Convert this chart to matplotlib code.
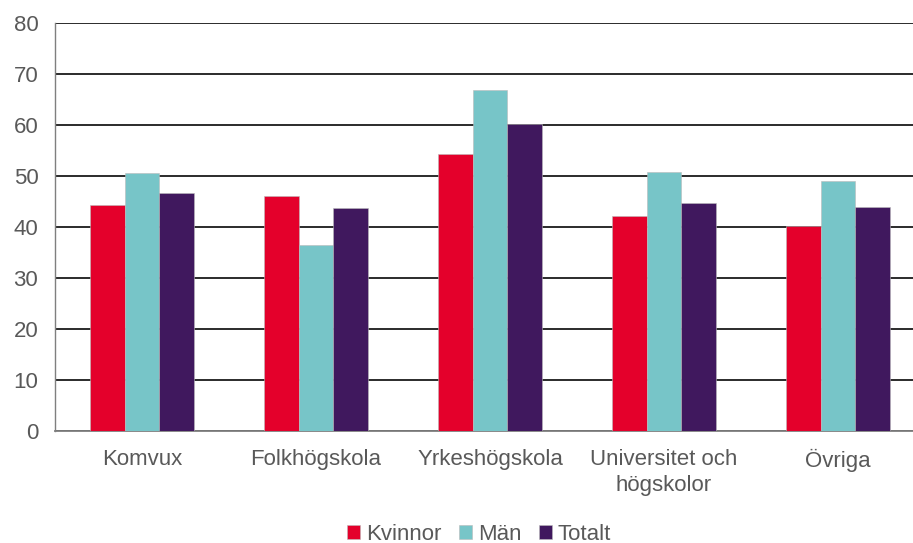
import numpy as np
import matplotlib
matplotlib.use('Agg')
import matplotlib.pyplot as plt

plt.rcParams['font.family'] = ['Liberation Sans', 'DejaVu Sans']

categories = ['Komvux', 'Folkhögskola', 'Yrkeshögskola', 'Universitet och\nhögskolor', 'Övriga']
kvinnor = [44.4, 46.1, 54.2, 42.1, 40.1]
man = [50.5, 36.4, 66.8, 50.7, 49.0]
totalt = [46.7, 43.7, 60.1, 44.6, 43.9]

series = [('Kvinnor', kvinnor, '#E4002B'),
          ('Män', man, '#77C5C8'),
          ('Totalt', totalt, '#40185E')]

fig = plt.figure(figsize=(9.13, 5.43), dpi=100)
# plot area runs slightly past the right edge, like the original
ax = fig.add_axes([55 / 913, 0.206, 870 / 913, 0.752])

x = np.arange(len(categories))
w = 0.198
for i, (name, vals, col) in enumerate(series):
    ax.bar(x + (i - 1) * w, vals, w, color=col, label=name, zorder=3,
           edgecolor='#BBBBBB', linewidth=0.4)

ax.set_xlim(-0.5, len(categories) - 0.5)
ax.set_ylim(0, 80)
ax.set_yticks(range(0, 81, 10))
ax.yaxis.grid(True, color='#1a1a1a', linewidth=1.3, zorder=0)
ax.set_axisbelow(True)

for s in ['top', 'right']:
    ax.spines[s].set_visible(False)
ax.spines['left'].set_color('#7f7f7f')
ax.spines['bottom'].set_color('#7f7f7f')
ax.spines['left'].set_linewidth(1.0)
ax.spines['bottom'].set_linewidth(1.3)

ax.set_xticks(x)
ax.set_xticklabels(categories, fontsize=16, color='#595959', linespacing=1.3, va='top')
ax.tick_params(axis='x', length=0, pad=13)
ax.tick_params(axis='y', length=0, pad=12, labelsize=16, labelcolor='#595959')

leg = fig.legend(loc='lower center', bbox_to_anchor=(479 / 913, -0.04), ncol=3, frameon=False,
                 fontsize=16, handlelength=0.6, handleheight=0.6, handletextpad=0.25,
                 columnspacing=0.8)
for t in leg.get_texts():
    t.set_color('#595959')

fig.savefig('out.png', dpi=100)
